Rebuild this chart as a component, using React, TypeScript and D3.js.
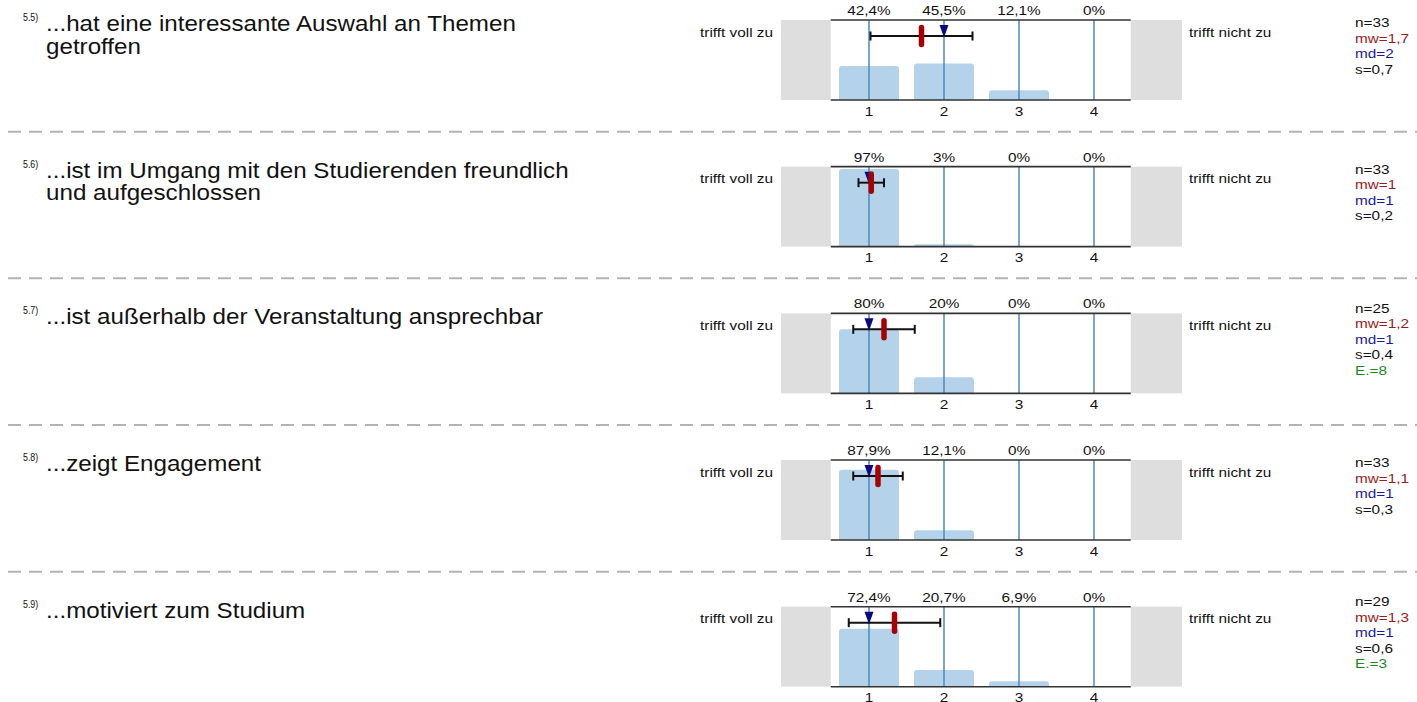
import React from "react";
import * as d3 from "d3";

const questionIds = ["5.5)", "5.6)", "5.7)", "5.8)", "5.9)"];
const questionLines = [
  ["...hat eine interessante Auswahl an Themen", "getroffen"],
  ["...ist im Umgang mit den Studierenden freundlich", "und aufgeschlossen"],
  ["...ist außerhalb der Veranstaltung ansprechbar"],
  ["...zeigt Engagement"],
  ["...motiviert zum Studium"],
];
const categories = [1, 2, 3, 4];
const percentages = [
  [42.4, 45.5, 12.1, 0],
  [97, 3, 0, 0],
  [80, 20, 0, 0],
  [87.9, 12.1, 0, 0],
  [72.4, 20.7, 6.9, 0],
];
const nValues = [33, 33, 25, 33, 29];
const means = [1.7, 1.03, 1.2, 1.12, 1.34];
const medians = [2, 1, 1, 1, 1];
const sds = [0.68, 0.17, 0.41, 0.33, 0.61];
const abstentions: (number | null)[] = [null, null, 8, null, 3];
const leftLabel = "trifft voll zu";
const rightLabel = "trifft nicht zu";

const W = 1417;
const H = 702;
const PANEL_STEP = 146.67;
const FONT = "'Liberation Sans', Arial, Helvetica, sans-serif";
const SX = 1.18;

const fmtPct = (v: number) =>
  (Number.isInteger(v) ? String(v) : d3.format(".1f")(v)).replace(".", ",") + "%";
const fmtStat = (v: number) => {
  let s = d3.format(".1f")(v);
  if (s.endsWith(".0")) s = s.slice(0, -2);
  return s.replace(".", ",");
};

function topRoundedBar(x0: number, x1: number, yTop: number, yBot: number, r: number) {
  const h = yBot - yTop;
  const rr = Math.min(r, h, (x1 - x0) / 2);
  const p = d3.path();
  p.moveTo(x0, yBot);
  p.lineTo(x0, yTop + rr);
  if (rr > 0) p.arcTo(x0, yTop, x0 + rr, yTop, rr);
  p.lineTo(x1 - rr, yTop);
  if (rr > 0) p.arcTo(x1, yTop, x1, yTop + rr, rr);
  p.lineTo(x1, yBot);
  p.closePath();
  return p.toString();
}

const SmallText = ({ x, y, anchor = "start", fill = "#111", children }: any) => (
  <text
    transform={`translate(${x},${y}) scale(${SX},1)`}
    textAnchor={anchor}
    fontSize={13}
    fontFamily={FONT}
    fill={fill}
  >
    {children}
  </text>
);

function Panel({ k }: { k: number }) {
  const off = k * PANEL_STEP;
  const x = d3.scaleLinear().domain([1, 4]).range([869, 1094]);
  const top = 20 + off;
  const bot = 100 + off;
  const y = d3.scaleLinear().domain([0, 100]).range([bot, top]);
  const plotL = x(0.49);
  const plotR = x(4.49);
  const barW = 60;
  const pcts = percentages[k];
  const mean = means[k];
  const sd = sds[k];
  const med = medians[k];
  const ebY = off + 36;
  const stats: { t: string; c: string }[] = [
    { t: `n=${nValues[k]}`, c: "#111" },
    { t: `mw=${fmtStat(mean)}`, c: "#9a1a1a" },
    { t: `md=${med}`, c: "#1a1a9a" },
    { t: `s=${fmtStat(sd)}`, c: "#111" },
  ];
  if (abstentions[k] != null) stats.push({ t: `E.=${abstentions[k]}`, c: "#1a8a1a" });
  const statStart = off + 27.3 - (stats.length - 4) * 7.75;

  return (
    <g>
      {/* question */}
      <text
        transform={`translate(23,${off + 21}) scale(0.88,1)`}
        fontSize={10}
        fontFamily={FONT}
        fill="#111"
      >
        {questionIds[k]}
      </text>
      {questionLines[k].map((line, i) => (
        <text
          key={i}
          transform={`translate(46,${off + 31 + i * 22.5}) scale(1.075,1)`}
          fontSize={22.5}
          fontFamily={FONT}
          fill="#111"
        >
          {line}
        </text>
      ))}

      {/* side labels */}
      <SmallText x={773} y={off + 36.5} anchor="end">
        {leftLabel}
      </SmallText>
      <SmallText x={1189} y={off + 36.5}>
        {rightLabel}
      </SmallText>

      {/* gray boxes */}
      <rect x={781} y={top} width={plotL - 781} height={bot - top} fill="#dedede" />
      <rect x={plotR} y={top} width={1182 - plotR} height={bot - top} fill="#dedede" />

      {/* bars */}
      {categories.map((c, i) =>
        pcts[i] > 0 ? (
          <path
            key={c}
            d={topRoundedBar(x(c) - barW / 2, x(c) + barW / 2, y(pcts[i]), bot, 3)}
            fill="#b4d3ea"
          />
        ) : null
      )}

      {/* category lines */}
      {categories.map((c) => (
        <line key={c} x1={x(c)} x2={x(c)} y1={top} y2={bot} stroke="#4f87bf" strokeWidth={1.5} />
      ))}

      {/* frame lines */}
      <line x1={plotL} x2={plotR} y1={top} y2={top} stroke="#333" strokeWidth={1.6} />
      <line x1={plotL} x2={plotR} y1={bot} y2={bot} stroke="#333" strokeWidth={1.6} />

      {/* percent labels */}
      {categories.map((c, i) => (
        <SmallText key={c} x={x(c)} y={off + 15} anchor="middle">
          {fmtPct(pcts[i])}
        </SmallText>
      ))}
      {/* tick labels */}
      {categories.map((c) => (
        <SmallText key={c} x={x(c)} y={off + 115.5} anchor="middle">
          {c}
        </SmallText>
      ))}

      {/* error bar */}
      <g stroke="#111" strokeWidth={2}>
        <line x1={x(mean - sd)} x2={x(mean + sd)} y1={ebY} y2={ebY} />
        <line x1={x(mean - sd)} x2={x(mean - sd)} y1={ebY - 4.5} y2={ebY + 4.5} />
        <line x1={x(mean + sd)} x2={x(mean + sd)} y1={ebY - 4.5} y2={ebY + 4.5} />
      </g>
      {/* median triangle */}
      <path
        d={`M${x(med) - 4.5},${off + 25} L${x(med) + 4.5},${off + 25} L${x(med)},${off + 37.5} Z`}
        fill="#0a0a80"
      />
      {/* mean marker */}
      <line
        x1={x(mean)}
        x2={x(mean)}
        y1={off + 27.5}
        y2={off + 44.5}
        stroke="#a80000"
        strokeWidth={5.5}
        strokeLinecap="round"
      />

      {/* stats */}
      {stats.map((s, i) => (
        <SmallText key={i} x={1355} y={statStart + i * 15.5} fill={s.c}>
          {s.t}
        </SmallText>
      ))}
    </g>
  );
}

export default function App() {
  const separators = [0, 1, 2, 3];
  return (
    <div style={{ position: "absolute", left: 0, top: 0, width: W, height: H, overflow: "hidden", background: "#fff" }}>
      <svg width={W} height={H} style={{ display: "block" }}>
        <rect width={W} height={H} fill="#fff" />
        {separators.map((s) => (
          <line
            key={s}
            x1={8}
            x2={W}
            y1={131.7 + s * PANEL_STEP}
            y2={131.7 + s * PANEL_STEP}
            stroke="#b3b3b3"
            strokeWidth={2}
            strokeDasharray="13,8"
          />
        ))}
        {questionIds.map((_, k) => (
          <Panel key={k} k={k} />
        ))}
      </svg>
    </div>
  );
}
